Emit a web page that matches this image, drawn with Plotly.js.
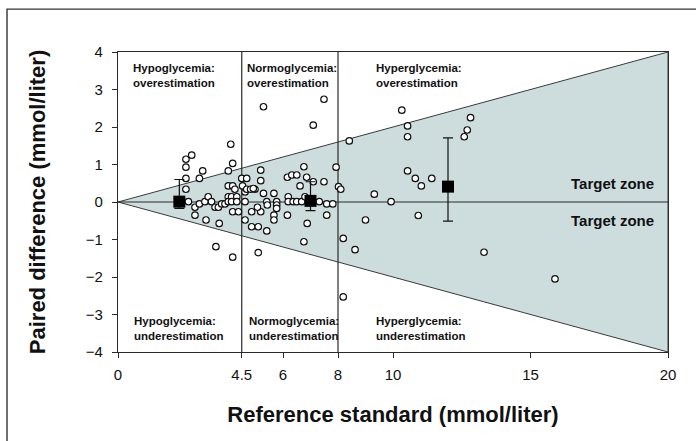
<!DOCTYPE html>
<html><head><meta charset="utf-8">
<script src="https://cdn.plot.ly/plotly-3.0.1.min.js"></script>
<style>html,body{margin:0;padding:0;background:#fff}#chart{width:696px;height:441px}</style>
</head><body><div id="chart"></div>
<script>
// Individual paired differences (reference standard, mmol/liter)
const refX = [4.10,2.68,2.47,2.47,3.08,4.01,4.17,2.47,2.96,4.01,4.17,4.25,2.47,
  2.56,2.80,2.96,3.16,3.28,3.40,3.53,3.65,3.77,3.89,4.01,4.01,4.13,4.13,4.32,4.32,4.17,4.38,2.80,3.20,3.68,3.56,4.17,
  4.50,4.68,4.53,4.62,4.62,4.62,4.68,4.82,4.98,5.29,5.67,5.41,5.77,6.19,6.19,6.37,6.50,6.68,6.80,7.32,7.59,7.81,
  4.86,5.19,5.07,5.43,5.77,5.77,5.67,5.67,6.16,7.59,4.86,5.10,5.41,6.88,6.76,5.10,
  5.29,7.49,7.10,5.19,6.76,7.93,5.19,6.16,6.32,6.50,6.86,7.10,7.49,6.62,4.92,
  8.02,8.10,8.41,8.19,8.19,10.32,10.53,10.53,12.82,12.70,12.59,10.53,10.81,11.03,11.41,9.32,9.93,10.92,9.00,8.62,13.31,15.89];
const diffY = [1.54,1.25,1.14,0.93,0.83,0.83,1.03,0.63,0.63,0.43,0.43,0.34,0.34,
  0.01,-0.14,-0.05,0.01,0.14,0.01,-0.14,-0.14,-0.05,-0.05,0.14,0.01,0.14,0.01,0.14,0.01,-0.26,-0.26,-0.35,-0.48,-0.57,-1.19,-1.47,
  0.63,0.63,0.43,0.27,0.01,-0.48,0.34,0.34,0.34,0.23,0.23,0.01,0.01,0.14,0.01,0.01,0.01,0.01,0.14,0.01,-0.05,-0.05,
  -0.26,-0.26,-0.14,-0.08,-0.08,-0.17,-0.35,-0.48,-0.35,-0.35,-0.66,-0.66,-0.77,-0.57,-1.06,-1.35,
  2.54,2.74,2.05,0.85,0.94,0.93,0.57,0.66,0.72,0.72,0.66,0.54,0.54,0.43,0.36,
  0.41,0.34,1.63,-0.97,-2.53,2.45,2.03,1.74,2.25,1.92,1.74,0.83,0.63,0.43,0.63,0.21,0.01,-0.36,-0.48,-1.27,-1.34,-2.05];

// Group means with error bars
const meanX = [2.23, 7.0, 12.0];
const meanY = [0.01, 0.03, 0.41];
const errPlus = [0.59, 0.51, 1.30];
const errMinus = [0.18, 0.26, 0.92];

// Target zone (triangle) and thresholds
const zoneX = [0, 20, 20, 0];
const zoneY = [0, 4, -4, 0];
const thresholds = [4.5, 8];
const xTicks = [0, 4.5, 6, 8, 10, 15, 20];
const yTicks = [-4, -3, -2, -1, 0, 1, 2, 3, 4];

const regionLabels = [
  {x: 0.46, y: 3.37, t: 'Hypoglycemia:<br>overestimation'},
  {x: 4.62, y: 3.37, t: 'Normoglycemia:<br>overestimation'},
  {x: 9.32, y: 3.37, t: 'Hyperglycemia:<br>overestimation'},
  {x: 0.50, y: -3.36, t: 'Hypoglycemia:<br>underestimation'},
  {x: 4.68, y: -3.36, t: 'Normoglycemia:<br>underestimation'},
  {x: 9.32, y: -3.36, t: 'Hyperglycemia:<br>underestimation'}
];
const targetLabels = [{y: 0.5}, {y: -0.48}];

const FONT = 'Liberation Sans, Arial, sans-serif';
const lineCol = '#2a2a2a';
const traces = [
  {x: zoneX, y: zoneY, type: 'scatter', mode: 'lines', fill: 'toself', fillcolor: '#cddddd',
   line: {color: '#3a3a3a', width: 1}, hoverinfo: 'skip', showlegend: false},
  {x: [0, 20], y: [0, 0], type: 'scatter', mode: 'lines', line: {color: lineCol, width: 1.2}, showlegend: false},
];
thresholds.forEach(t => traces.push({x: [t, t], y: [-4, 4], type: 'scatter', mode: 'lines',
  line: {color: lineCol, width: 1.2}, showlegend: false}));
traces.push({x: refX, y: diffY, type: 'scatter', mode: 'markers',
  marker: {symbol: 'circle', size: 6.5, color: '#ffffff', line: {color: '#111', width: 1.2}}, showlegend: false});
traces.push({x: meanX, y: meanY, type: 'scatter', mode: 'markers',
  marker: {symbol: 'square', size: 12, color: '#000'},
  error_y: {type: 'data', symmetric: false, array: errPlus, arrayminus: errMinus, color: '#111', thickness: 1.2, width: 5},
  showlegend: false});

const annotations = regionLabels.map(r => ({x: r.x, y: r.y, xref: 'x', yref: 'y', text: '<b>' + r.t + '</b>',
  showarrow: false, xanchor: 'left', yanchor: 'middle', align: 'left',
  font: {family: FONT, size: 11.5, color: '#111'}}));
targetLabels.forEach(t => annotations.push({x: 19.55, y: t.y, xref: 'x', yref: 'y', text: '<b>Target zone</b>',
  showarrow: false, xanchor: 'right', yanchor: 'middle', font: {family: FONT, size: 15, color: '#111'}}));

const layout = {
  width: 696, height: 441,
  margin: {l: 118, r: 28, t: 52, b: 89},
  paper_bgcolor: '#fff', plot_bgcolor: '#fff',
  font: {family: FONT, color: '#111', size: 15},
  xaxis: {range: [0, 20], tickvals: xTicks, ticktext: xTicks.map(String), showgrid: false, zeroline: false,
    showline: true, mirror: true, linecolor: lineCol, linewidth: 1.2, ticks: 'outside', ticklen: 5, tickcolor: lineCol,
    ticklabelstandoff: 4, tickfont: {size: 15},
    title: {text: '<b>Reference standard (mmol/liter)</b>', font: {size: 22}, standoff: 24}},
  yaxis: {range: [-4, 4], tickvals: yTicks, showgrid: false, zeroline: false,
    showline: true, mirror: true, linecolor: lineCol, linewidth: 1.2, ticks: 'outside', ticklen: 5, tickcolor: lineCol,
    ticklabelstandoff: 6, tickfont: {size: 15},
    title: {text: '<b>Paired difference (mmol/liter)</b>', font: {size: 22}, standoff: 34}},
  annotations: annotations,
  shapes: [{type: 'rect', xref: 'paper', yref: 'paper', x0: -0.2018, x1: 1.07, y0: -0.32, y1: 1.143,
    line: {color: '#333', width: 1.4}, fillcolor: 'rgba(0,0,0,0)'}]
};
Plotly.newPlot('chart', traces, layout, {displayModeBar: false, staticPlot: true});
</script></body></html>
